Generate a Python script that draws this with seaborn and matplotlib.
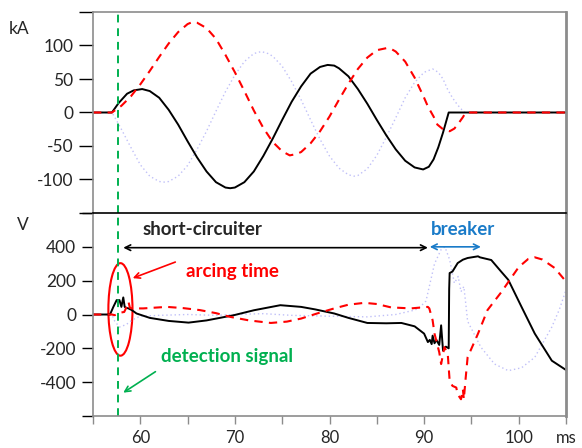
import seaborn as sns, matplotlib.pyplot as plt, numpy as np
from matplotlib.patches import Ellipse

# --- currents (kA) ---
ia_t = [55, 57, 57.7, 58.6, 59.3, 60.2, 61, 62, 63, 64, 65, 66, 67, 68, 69, 69.5, 70, 71, 72, 73, 74, 75,
        76, 77, 78, 79, 79.8, 80.5, 81, 82, 83, 84, 85, 86, 87, 88, 89, 89.9, 90.5, 91, 91.5, 92, 92.3, 92.6, 105]
ia = [0, 0, 14, 28, 33, 35, 32, 22, 4, -18, -43, -67, -88, -104, -112, -113, -112, -104, -88, -65, -39, -11,
      16, 39, 58, 68, 71, 70, 66, 54, 35, 13, -11, -34, -55, -72, -82, -85, -81, -70, -52, -30, -15, 0, 0]

ib_t = [55, 57, 57.7, 58, 59, 60, 61, 62, 63, 64, 65, 65.5, 66, 67, 68, 69, 70, 71, 72, 73, 74, 75, 75.8,
        76.5, 77, 78, 79, 80, 81, 82, 83, 84, 85, 86, 86.5, 87, 88, 89, 90, 90.4, 91, 91.4, 92, 92.7, 93.2,
        93.7, 94.1, 94.4, 105]
ib = [0, 0, 7, 10, 24, 42, 62, 83, 103, 120, 132, 135, 134, 126, 110, 86, 60, 32, 3, -23, -44, -58, -64,
      -62, -59, -46, -28, -6, 19, 43, 65, 82, 93, 96, 95, 91, 76, 52, 22, 9, -6, -18, -25, -28, -24,
      -15, -7, 0, 0]

ic_t = [55, 57, 57.5, 58, 59, 60, 61, 62, 62.6, 63, 64, 65, 66, 67, 68, 69, 70, 71, 72, 72.8, 73.5, 74, 75,
        76, 77, 78, 79, 80, 81, 82, 82.6, 83, 84, 85, 86, 87, 88, 89, 90, 90.9, 91.5, 92, 92.5, 93, 93.5,
        94, 94.3, 105]
ic = [0, 0, -12, -25, -52, -78, -95, -103, -104, -103, -95, -79, -55, -28, 2, 31, 56, 76, 88, 91, 88, 84, 69,
      46, 19, -11, -40, -65, -83, -93, -95, -94, -84, -64, -37, -8, 22, 45, 60, 65, 60, 50, 34, 22, 12,
      4, 0, 0]

# --- voltages (V) ---
va_t = [55, 56.8, 57.15, 57.5, 57.8, 58.0, 58.2, 58.35, 58.5, 58.75, 59.1, 59.6, 61, 63, 65.1, 67, 69.9, 72,
        74.8, 77, 78.5, 80.5, 82, 84, 86, 87.6, 89, 90, 90.4, 90.6, 90.8, 90.9, 91.1, 91.3, 91.6, 91.8,
        92.0, 92.3, 92.6, 92.65, 92.7, 93.0, 93.55, 94.1, 94.6, 95.7, 95.9, 97.1, 98.2, 98.9, 100.3,
        101.7, 103.5, 105]
va = [0, 0, 45, 85, 85, 45, 101, 45, 40, 36, 26, 6, -20, -38, -48, -35, -4, 25, 55, 45, 30, 6, -20, -50,
      -52, -50, -70, -113, -163, -150, -175, -125, -170, -150, -180, -64, -213, -190, -200, 150, 245,
      254, 304, 324, 334, 344, 338, 322, 250, 205, 45, -113, -273, -328]

vb_t = [55, 57, 57.3, 57.8, 58.3, 58.6, 58.75, 58.9, 59.1, 60.3, 62.8, 64.5, 66.3, 68, 69.5, 71.5, 73.8, 75.5,
        77, 78.8, 80.5, 82, 83.7, 85, 86.5, 88.6, 90.4, 90.55, 90.9, 91.1, 91.6, 91.8, 92.15, 92.5, 92.7,
        93.0, 93.4, 93.55, 93.9, 94.1, 94.2, 94.4, 94.6, 95.7, 96.7, 98.2, 99, 100, 101, 101.7, 102.5,
        103.8, 105]
vb = [0, 0, -4, 10, 15, 50, 75, 40, 36, 36, 45, 38, 26, 8, -14, -35, -50, -42, -24, 8, 36, 58, 69, 62, 42,
      36, 45, 36, -34, -113, -223, -293, -193, -233, -392, -422, -432, -472, -501, -442, -501, -372,
      -253, -113, 26, 135, 200, 280, 328, 338, 325, 275, 195]

vc_t = [55, 57, 57.3, 57.8, 58.5, 59.2, 60, 62, 65, 68, 70, 73, 76, 80, 84, 87, 89, 89.5, 90.2, 91.1, 91.8,
        92.2, 92.7, 93.2, 93.6, 93.9, 94.2, 94.4, 94.6, 96, 97.45, 98.9, 100.3, 101.7, 103.5, 104.3, 105]
vc = [0, 0, -40, -74, -60, -30, -10, -5, 0, -5, 0, 5, -5, -10, -14, 0, 26, 40, 80, 300, 384, 400, 324, 185,
      225, 135, 165, 66, -40, -193, -293, -332, -315, -253, -74, 30, 145]

x_ticks = [55, 60, 65, 70, 75, 80, 85, 90, 95, 100, 105]
x_labels = ['', '60', '', '70', '', '80', '', '90', '', '100', 'ms']
kA_ticks = [-150, -100, -50, 0, 50, 100, 150]
V_ticks = [-600, -400, -200, 0, 200, 400, 600]
detect_t = 57.6

sns.set_style('white')
plt.rcParams['font.family'] = ['Lato', 'DejaVu Sans']

RED = '#ff0000'
GREEN = '#00b050'
BLUE = '#1a7bc8'
LAV = '#c0c0f8'
GRAY = '#8c8c8c'
FS = 12.5

fig = plt.figure(figsize=(5.82, 4.48), dpi=100)
ax1 = fig.add_axes([93/582, 1-213/448, (566-93)/582, (213-12)/448])
ax2 = fig.add_axes([93/582, 1-416/448, (566-93)/582, (416-213)/448])

def draw(ax, t1, y1, t2, y2, t3, y3):
    sns.lineplot(x=t3, y=y3, ax=ax, color=LAV, linestyle=(0, (1, 2)), linewidth=1.0, estimator=None, sort=False)
    sns.lineplot(x=t1, y=y1, ax=ax, color='black', linewidth=1.4, estimator=None, sort=False)
    sns.lineplot(x=t2, y=y2, ax=ax, color=RED, linestyle=(0, (4, 3)), linewidth=1.5, estimator=None, sort=False)
    ax.axvline(detect_t, color=GREEN, linestyle=(0, (4, 3)), linewidth=1.4)

draw(ax1, ia_t, ia, ib_t, ib, ic_t, ic)
draw(ax2, va_t, va, vb_t, vb, vc_t, vc)

for ax in (ax1, ax2):
    ax.set_xlim(55, 105)
    ax.set_xlabel('')
    ax.set_ylabel('')
    for s in ax.spines.values():
        s.set_color(GRAY)
        s.set_linewidth(1.2)
        s.set_zorder(5)
    ax.spines['right'].set_linewidth(2)

ax1.set_ylim(-150, 150)
ax1.set_yticks(kA_ticks)
ax1.set_yticklabels(['', '-100', '-50', '0', '50', '100', ''])
ax1.set_xticks([])
ax1.tick_params(axis='y', left=True, length=10, width=1, color='black', labelsize=FS, pad=4)
ax1.spines['bottom'].set_visible(False)

ax2.set_ylim(-600, 600)
ax2.set_yticks(V_ticks)
ax2.set_yticklabels(['', '-400', '-200', '0', '200', '400', ''])
ax2.set_xticks(x_ticks)
ax2.set_xticklabels(x_labels)
ax2.tick_params(axis='y', left=True, length=8, width=1, color='black', labelsize=FS, pad=4)
ax2.tick_params(axis='x', bottom=True, length=6, width=1, color=GRAY, labelsize=12, pad=4)
ax2.spines['top'].set_color('black')

fig.text(19/582, 1-29/448, 'kA', fontsize=FS, ha='center', va='center')
fig.text(23/582, 1-225/448, 'V', fontsize=FS, ha='center', va='center')

# annotations
AFS = 13.5
ax2.text(66.6, 503, 'short-circuiter', fontsize=AFS, fontweight='bold', ha='center', va='center')
ax2.annotate('', xy=(58.2, 395), xytext=(90.4, 395),
             arrowprops=dict(arrowstyle='<->', color='black', lw=1.2, shrinkA=0, shrinkB=0))
ax2.text(94.1, 503, 'breaker', fontsize=AFS, fontweight='bold', color=BLUE, ha='center', va='center')
ax2.annotate('', xy=(90.6, 400), xytext=(96.0, 400),
             arrowprops=dict(arrowstyle='<->', color=BLUE, lw=1.2, shrinkA=0, shrinkB=0))
ax2.add_patch(Ellipse((57.9, 30), 2.55, 547, fill=False, edgecolor=RED, linewidth=1.5))
ax2.text(69.7, 254, 'arcing time', fontsize=AFS, fontweight='bold', color=RED, ha='center', va='center')
ax2.annotate('', xy=(59.2, 215), xytext=(63.7, 310),
             arrowprops=dict(arrowstyle='->', color=RED, lw=1.2, shrinkA=0, shrinkB=0))
ax2.text(69.2, -247, 'detection signal', fontsize=AFS, fontweight='bold', color=GREEN, ha='center', va='center')
ax2.annotate('', xy=(58.2, -462), xytext=(61.6, -338),
             arrowprops=dict(arrowstyle='->', color=GREEN, lw=1.2, shrinkA=0, shrinkB=0))

fig.savefig('out.png', dpi=100)
